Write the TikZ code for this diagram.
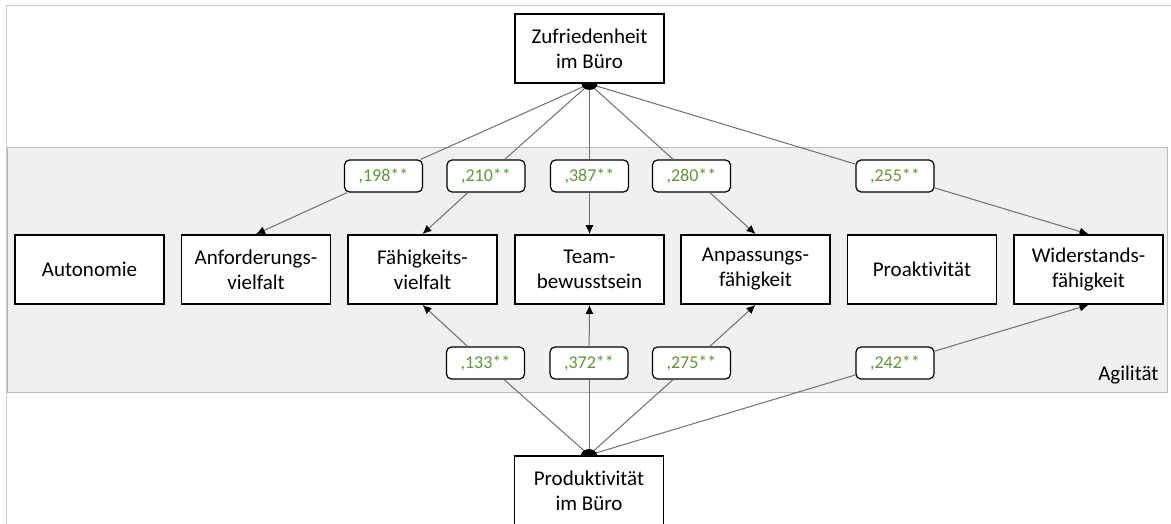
\documentclass[tikz,border=0pt]{standalone}
\usepackage{fontspec}
\setmainfont{Carlito}[RawFeature={-liga;-clig;-calt;-dlig}]
\usetikzlibrary{arrows.meta}
\definecolor{numgreen}{RGB}{96,150,58}
\definecolor{bandfill}{RGB}{240,240,240}
\definecolor{bandline}{RGB}{185,185,185}
\definecolor{frameline}{RGB}{205,205,205}
\definecolor{connline}{RGB}{110,110,110}
\newcommand{\nlg}{\kern0pt }
\begin{document}
\begin{tikzpicture}[x=1pt,y=-1pt,
  box/.style={draw=black,line width=1.8pt,fill=white,minimum width=149pt,minimum height=69pt,inner sep=0pt,align=center,font=\fontsize{21}{25}\selectfont},
  lab/.style={draw=black,line width=1.2pt,fill=white,rounded corners=5pt,minimum width=78pt,minimum height=32pt,inner sep=0pt,text=numgreen,font=\fontsize{18}{20}\selectfont},
  conn/.style={draw=connline,line width=1pt},
  arr/.style={conn,-{Latex[length=9pt,width=8pt,color=black]}}]
\useasboundingbox (0,0) rectangle (1171,524);
\begin{scope}
\clip (0,0) rectangle (1171,524);
\draw[frameline,line width=1pt] (6,540) -- (6,6) -- (1180,6);
\draw[bandline,fill=bandfill,line width=1pt] (7,148) rectangle (1167,392);
\end{scope}
\node[anchor=base east,font=\fontsize{21}{24}\selectfont] (agil) at (1162,380) {Agilität};
% main boxes
\node[box] (zuf) at (589.5,48.5) {Zufriedenheit\\im Büro};
\node[box] (prod) at (589,490.5) {Produkt\nlg ivität\\im Büro};
\node[box] (auto) at (89.5,269.5) {Autonomie};
\node[box] (anf) at (256,269.5) {Anforderungs-\\vielfalt};
\node[box] (faeh) at (422.5,269.5) {Fähigkeits-\\vielfalt};
\node[box] (team) at (589.5,269.5) {Team-\\bewusstsein};
\node[box] (anp) at (755.5,269.5) {Anpassungs-\\fähigkeit};
\node[box] (proa) at (922,269.5) {Proakt\nlg ivität};
\node[box] (wid) at (1088.5,269.5) {Widerstands-\\fähigkeit};
% labels
\node[lab] (t1) at (383.5,176) {,198**};
\node[lab] (t2) at (486,176) {,210**};
\node[lab] (t3) at (589.5,176) {,387**};
\node[lab] (t4) at (691.5,176) {,280**};
\node[lab] (t5) at (895,176) {,255**};
\node[lab] (b1) at (485.5,363) {,133**};
\node[lab] (b2) at (589,363) {,372**};
\node[lab] (b3) at (691.5,363) {,275**};
\node[lab] (b4) at (895,363) {,242**};
% top connectors
\foreach \l/\t in {t1/anf,t2/faeh,t3/team,t4/anp,t5/wid}{
  \draw[conn] (zuf.south) -- (\l);
  \draw[arr] (\l) -- (\t.north);
}
\foreach \l/\t in {b1/faeh,b2/team,b3/anp,b4/wid}{
  \draw[conn] (prod.north) -- (\l);
  \draw[arr] (\l) -- (\t.south);
}
% dots
\begin{scope}
\clip ([xshift=-20pt]zuf.south) rectangle ([xshift=20pt,yshift=-12pt]zuf.south);
\fill[black] (zuf.south) ellipse [x radius=8pt,y radius=6pt];
\end{scope}
\begin{scope}
\clip ([xshift=-20pt]prod.north) rectangle ([xshift=20pt,yshift=12pt]prod.north);
\fill[black] (prod.north) ellipse [x radius=8pt,y radius=6pt];
\end{scope}
\end{tikzpicture}
\end{document}
